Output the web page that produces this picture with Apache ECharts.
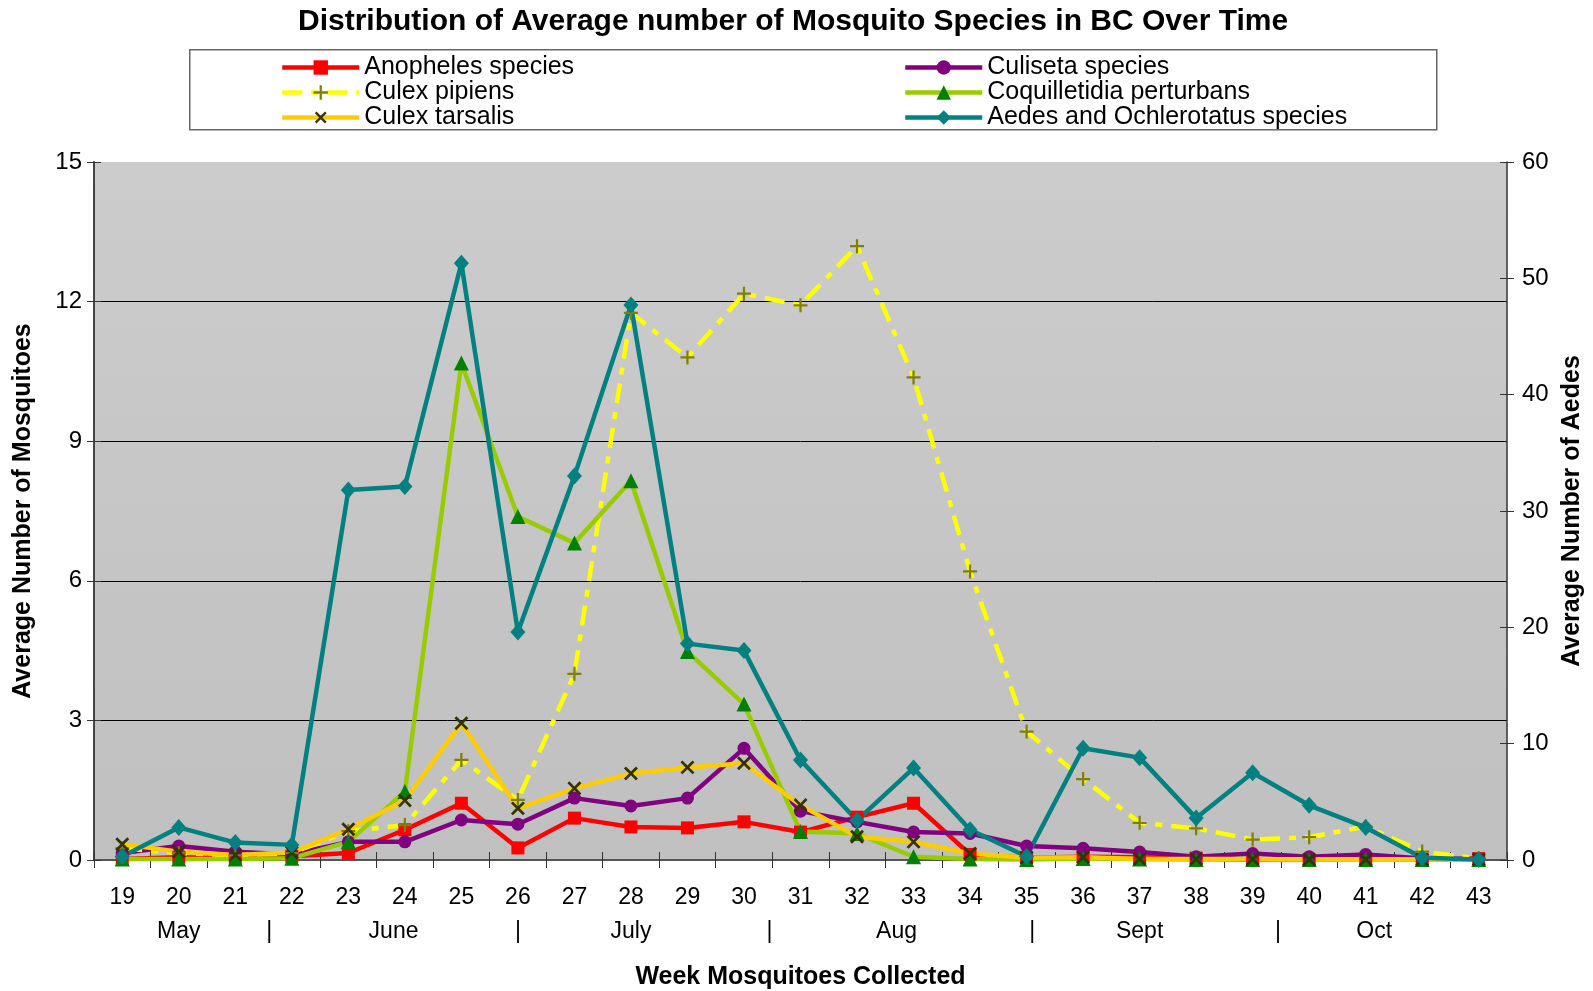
<!DOCTYPE html>
<html>
<head>
<meta charset="utf-8">
<script src="https://cdn.jsdelivr.net/npm/echarts@6/dist/echarts.min.js"></script>
<style>
  html, body { margin: 0; padding: 0; background: #fff; }
  #chart { width: 1593px; height: 991px; }
</style>
</head>
<body>
<div id="chart"></div>
<script>
// ---- data ----
const weeks = ['19','20','21','22','23','24','25','26','27','28','29','30','31','32','33','34','35','36','37','38','39','40','41','42','43'];
const anopheles     = [0.02,0.06,0.04,0.08,0.15,0.65,1.22,0.26,0.90,0.71,0.69,0.82,0.60,0.92,1.22,0.12,0.05,0.07,0.06,0.04,0.00,0.00,0.02,0.00,0.03];
const culiseta      = [0.15,0.30,0.18,0.12,0.39,0.39,0.86,0.77,1.33,1.16,1.33,2.40,1.05,0.82,0.60,0.57,0.30,0.25,0.17,0.07,0.14,0.07,0.12,0.03,0.02];
const culexPipiens  = [0.25,0.15,0.10,0.15,0.62,0.75,2.15,1.29,4.00,11.76,10.80,12.17,11.92,13.19,10.37,6.20,2.76,1.74,0.80,0.68,0.44,0.49,0.72,0.18,0.03];
const coquilletidia = [0.02,0.02,0.02,0.04,0.39,1.47,10.68,7.38,6.81,8.15,4.48,3.35,0.61,0.57,0.07,0.02,0.01,0.03,0.02,0.01,0.01,0.01,0.01,0.01,0.01];
const culexTarsalis = [0.34,0.18,0.11,0.16,0.66,1.28,2.94,1.11,1.54,1.86,1.99,2.08,1.18,0.50,0.39,0.14,0.05,0.06,0.02,0.02,0.02,0.01,0.01,0.01,0.01];
const aedes         = [0.3,2.8,1.5,1.3,31.8,32.1,51.3,19.6,33.0,47.7,18.6,18.0,8.6,3.4,7.9,2.6,0.3,9.6,8.8,3.6,7.5,4.7,2.8,0.2,0.05];

const monthNames = ['May','June','July','Aug','Sept','Oct'];
const monthPos   = [20, 23.8, 28, 32.7, 37, 41.15];   // week position of each month label
const monthSeps  = [21.6, 26, 30.45, 35.1, 39.45];    // week position of each '|' separator

const FONT = '"Liberation Sans", Arial, sans-serif';
const PLUS = 'path://M4.2,0 H5.8 V4.2 H10 V5.8 H5.8 V10 H4.2 V5.8 H0 V4.2 H4.2 Z';

const chart = echarts.init(document.getElementById('chart'));

function lineSeries(name, data, opts) {
  return Object.assign({
    name: name, type: 'line', data: data,
    yAxisIndex: 0, xAxisIndex: 0,
    symbolSize: 13,
    lineStyle: { width: 4.5 },
    emphasis: { disabled: true },
    animation: false
  }, opts);
}

const monthAxisValues = monthPos.concat(monthSeps).sort(function (a, b) { return a - b; });

const legendCommon = {
  orient: 'vertical', itemGap: 0, top: 50,
  itemWidth: 77, itemHeight: 18, z: 5,
  lineStyle: { width: 4.5 },
  textStyle: { fontFamily: FONT, fontSize: 25, lineHeight: 24, color: '#000' }
};

const option = {
  animation: false,
  textStyle: { fontFamily: FONT },
  title: {
    text: 'Distribution of Average number of Mosquito Species in BC Over Time',
    left: 293, top: 2,
    textStyle: { fontFamily: FONT, fontSize: 30, fontWeight: 'bold', color: '#000' }
  },
  graphic: [{
    type: 'rect', left: 189, top: 49, z: 0, silent: true,
    shape: { width: 1247, height: 80 },
    style: { fill: '#fff', stroke: '#666', lineWidth: 1.5 }
  }],
  legend: [
    Object.assign({}, legendCommon, {
      left: 275,
      data: ['Anopheles species', 'Culex pipiens', 'Culex tarsalis']
    }),
    Object.assign({}, legendCommon, {
      left: 898,
      data: ['Culiseta species', 'Coquilletidia perturbans', 'Aedes and Ochlerotatus species']
    })
  ],
  grid: {
    left: 94, right: 86, top: 162, bottom: 131,
    outerBoundsMode: 'none', containLabel: false,
    show: true, borderWidth: 0,
    backgroundColor: { type: 'linear', x: 0, y: 0, x2: 0, y2: 1,
      colorStops: [{ offset: 0, color: '#cccccc' }, { offset: 1, color: '#c0c0c0' }] }
  },
  xAxis: [{
    type: 'category', data: weeks, position: 'bottom', boundaryGap: true,
    name: 'Week Mosquitoes Collected', nameLocation: 'middle', nameGap: 105,
    nameTextStyle: { fontFamily: FONT, fontSize: 25, fontWeight: 'bold', color: '#000' },
    axisLine: { lineStyle: { color: '#555', width: 2 } },
    axisTick: { show: true, length: 8, lineStyle: { color: '#333', width: 1 } },
    axisLabel: { fontFamily: FONT, fontSize: 23, color: '#000', margin: 26, interval: 0 },
    splitLine: { show: false }
  }, {
    type: 'category', data: weeks, position: 'bottom', boundaryGap: true,
    axisLine: { show: false },
    axisTick: { show: true, inside: true, length: 8, lineStyle: { color: '#333', width: 1 } },
    axisLabel: { show: false }, splitLine: { show: false }
  }, {
    type: 'value', position: 'bottom', offset: 60, min: 18.5, max: 43.5,
    axisLine: { show: false },
    axisTick: { show: false },
    axisLabel: {
      show: true, customValues: monthAxisValues, margin: 0,
      fontFamily: FONT, fontSize: 23, color: '#000',
      formatter: function (v) {
        for (let i = 0; i < monthPos.length; i++) if (Math.abs(monthPos[i] - v) < 1e-6) return monthNames[i];
        return '|';
      }
    },
    splitLine: { show: false }
  }],
  yAxis: [{
    type: 'value', position: 'left', min: 0, max: 15, interval: 3,
    name: 'Average Number of Mosquitoes', nameLocation: 'middle', nameGap: 58, nameRotate: 90,
    nameTextStyle: { fontFamily: FONT, fontSize: 25, fontWeight: 'bold', color: '#000' },
    axisLine: { show: true, lineStyle: { color: '#444', width: 2 } },
    axisTick: { show: true, length: 7, lineStyle: { color: '#333' } },
    axisLabel: { fontFamily: FONT, fontSize: 24, color: '#000', margin: 12 },
    splitLine: { show: true, showMinLine: false, showMaxLine: false, lineStyle: { color: '#000', width: 1 } }
  }, {
    type: 'value', position: 'right', min: 0, max: 60, interval: 10,
    name: 'Average Number of Aedes', nameLocation: 'middle', nameGap: 52, nameRotate: 90,
    nameTextStyle: { fontFamily: FONT, fontSize: 25, fontWeight: 'bold', color: '#000' },
    axisLine: { show: true, lineStyle: { color: '#333', width: 1.5 } },
    axisTick: { show: true, length: 7, lineStyle: { color: '#333' } },
    axisLabel: { fontFamily: FONT, fontSize: 24, color: '#000', margin: 15 },
    splitLine: { show: false }
  }, {
    type: 'value', position: 'left', min: 0, max: 15, interval: 3,
    axisLine: { show: false }, axisLabel: { show: false }, splitLine: { show: false },
    axisTick: { show: true, inside: true, length: 7, lineStyle: { color: '#333' } }
  }, {
    type: 'value', position: 'right', min: 0, max: 60, interval: 10,
    axisLine: { show: false }, axisLabel: { show: false }, splitLine: { show: false },
    axisTick: { show: true, inside: true, length: 7, lineStyle: { color: '#333' } }
  }],
  series: [
    lineSeries('Anopheles species', anopheles, {
      symbol: 'rect', symbolSize: 13,
      itemStyle: { color: '#ff0000' }, lineStyle: { color: '#ff0000', width: 4.5 }
    }),
    lineSeries('Culiseta species', culiseta, {
      symbol: 'circle', symbolSize: 13,
      itemStyle: { color: '#800080' }, lineStyle: { color: '#800080', width: 4.5 }
    }),
    lineSeries('Culex pipiens', culexPipiens, {
      symbol: PLUS, symbolSize: 14,
      itemStyle: { color: '#808000' },
      lineStyle: { color: '#ffff00', width: 4.5, type: [20, 9, 7, 9] }
    }),
    lineSeries('Coquilletidia perturbans', coquilletidia, {
      symbol: 'triangle', symbolSize: 15,
      itemStyle: { color: '#008000' }, lineStyle: { color: '#99cc00', width: 4.5 }
    }),
    lineSeries('Culex tarsalis', culexTarsalis, {
      symbol: PLUS, symbolSize: 17, symbolRotate: 45,
      itemStyle: { color: '#333300' }, lineStyle: { color: '#ffcc00', width: 4.5 }
    }),
    lineSeries('Aedes and Ochlerotatus species', aedes, {
      yAxisIndex: 1,
      symbol: 'diamond', symbolSize: [15, 17],
      itemStyle: { color: '#008080' }, lineStyle: { color: '#008080', width: 4.5 }
    })
  ]
};

chart.setOption(option);
</script>
</body>
</html>
